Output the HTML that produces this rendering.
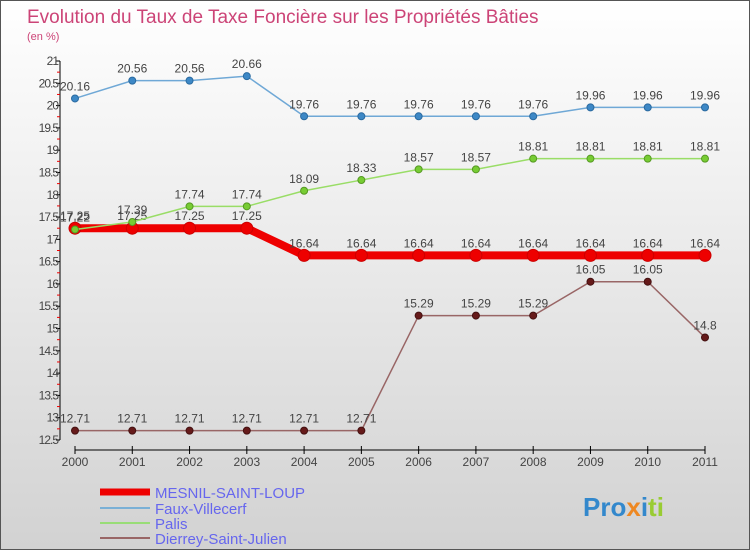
<!DOCTYPE html>
<html><head><meta charset="utf-8"><style>
body{margin:0;width:750px;height:550px;overflow:hidden;font-family:"Liberation Sans",sans-serif}
</style></head><body>
<svg id="c" width="750" height="550" xmlns="http://www.w3.org/2000/svg">
<defs><linearGradient id="bg" x1="0" y1="0" x2="0" y2="1"><stop offset="0" stop-color="#ffffff"/><stop offset="1" stop-color="#d2d2d2"/></linearGradient></defs>
<rect x="0.5" y="0.5" width="749" height="549" fill="url(#bg)" stroke="#555"/>
<text x="27" y="23" font-size="19" fill="#cc4477">Evolution du Taux de Taxe Foncière sur les Propriétés Bâties</text>
<text x="27" y="40" font-size="11" fill="#cc4477">(en %)</text>
<g id="axes"></g><g id="series"></g>
<g font-size="15" fill="#6666ee">
<line x1="100" y1="492" x2="150" y2="492" stroke="#ee0000" stroke-width="7"/>
<text x="155" y="498">MESNIL-SAINT-LOUP</text>
<line x1="100" y1="508" x2="150" y2="508" stroke="#7ab0d6" stroke-width="2"/>
<text x="155" y="514">Faux-Villecerf</text>
<line x1="100" y1="523" x2="150" y2="523" stroke="#99dd77" stroke-width="2"/>
<text x="155" y="529">Palis</text>
<line x1="100" y1="538" x2="150" y2="538" stroke="#996666" stroke-width="2"/>
<text x="155" y="544">Dierrey-Saint-Julien</text>
</g>
<text x="583" y="516" font-size="26" font-weight="bold"><tspan fill="#3388cc">Pro</tspan><tspan fill="#ee8822">x</tspan><tspan fill="#3388cc">i</tspan><tspan fill="#99cc33">ti</tspan></text>
</svg>
<script>
const years=[2000,2001,2002,2003,2004,2005,2006,2007,2008,2009,2010,2011];
const mesnil=[17.25,17.25,17.25,17.25,16.64,16.64,16.64,16.64,16.64,16.64,16.64,16.64];
const faux=[20.16,20.56,20.56,20.66,19.76,19.76,19.76,19.76,19.76,19.96,19.96,19.96];
const palis=[17.22,17.39,17.74,17.74,18.09,18.33,18.57,18.57,18.81,18.81,18.81,18.81];
const dierrey=[12.71,12.71,12.71,12.71,12.71,12.71,15.29,15.29,15.29,16.05,16.05,14.8];
const yTicks=[12.5,13,13.5,14,14.5,15,15.5,16,16.5,17,17.5,18,18.5,19,19.5,20,20.5,21];
const NS="http://www.w3.org/2000/svg";
const X=i=>75+i*(705-75)/(years.length-1);
const Y=v=>61+(21-v)*(440-61)/8.5;
function mk(p,t,a){const e=document.createElementNS(NS,t);for(const k in a)e.setAttribute(k,a[k]);p.appendChild(e);return e;}
const ax=document.getElementById('axes');
let e=mk(ax,'line',{x1:60,y1:Y(21),x2:60,y2:Y(12.5),stroke:'#000'});


e=mk(ax,'line',{x1:X(0),y1:450,x2:X(11),y2:450,stroke:'#000'});


yTicks.forEach(v=>{
 mk(ax,'line',{x1:56,y1:Y(v),x2:60,y2:Y(v),stroke:'#000'});
 if(v<21){mk(ax,'line',{x1:57,y1:Y(v+0.25),x2:60,y2:Y(v+0.25),stroke:'#e00'});}
 const t=mk(ax,'text',{x:58,y:Y(v)+4,'font-size':12,'text-anchor':'end',fill:'#444','letter-spacing':'-1'});t.textContent=String(v);
 
 
});
years.forEach((y,i)=>{
 mk(ax,'line',{x1:X(i),y1:446,x2:X(i),y2:454,stroke:'#000'});
 const t=mk(ax,'text',{x:X(i),y:466,'font-size':12,'text-anchor':'middle',fill:'#444'});t.textContent=y;
 
 
});
const sg=document.getElementById('series');
function series(name,vals,color,w,r,dot,dotStroke){
 const g=mk(sg,'g',{});
 
 
 mk(g,'polyline',{points:vals.map((v,i)=>X(i)+','+Y(v)).join(' '),fill:'none',stroke:color,'stroke-width':w});
 vals.forEach((v,i)=>{
  const c=mk(g,'circle',{cx:X(i),cy:Y(v),r:r,fill:dot,stroke:dotStroke,'stroke-width':1});
  
  
  const t=mk(g,'text',{x:X(i),y:Y(v)-8,'font-size':12,'text-anchor':'middle',fill:'#444'});t.textContent=v;
  
  
 });
}
series('dierrey',dierrey,'#996666',1.5,3.5,'#661a1a','#441111');
series('faux',faux,'#6fa8d6',1.5,3.5,'#3d88c6','#2a6aa0');
series('mesnil',mesnil,'#ee0000',8,6,'#ee0000','#cc0000');
series('palis',palis,'#99dd66',1.5,3.5,'#77cc33','#559922');
</script>
</body></html>
